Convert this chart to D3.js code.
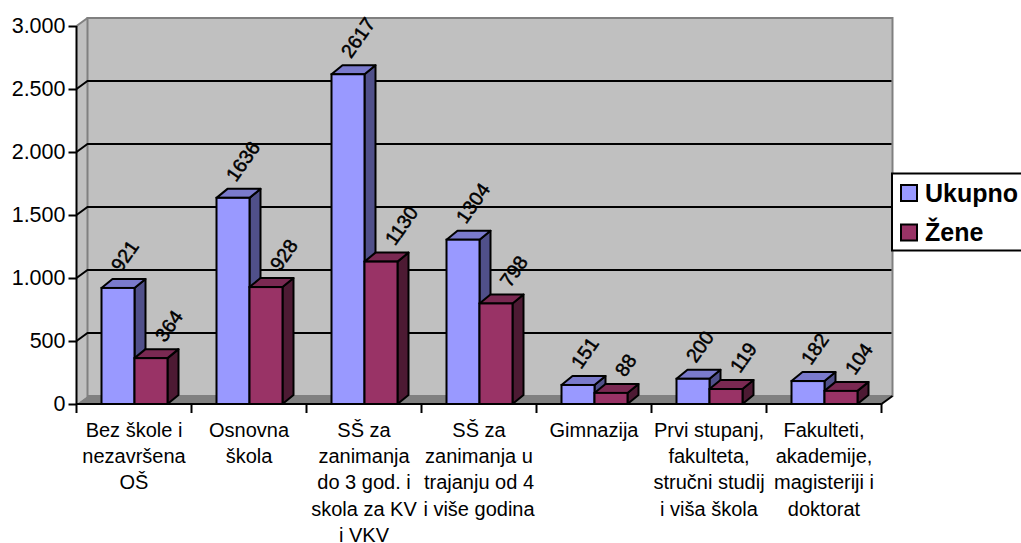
<!DOCTYPE html>
<html>
<head>
<meta charset="utf-8">
<script src="https://cdn.jsdelivr.net/npm/d3@7/dist/d3.min.js"></script>
<style>
html, body { margin: 0; padding: 0; background: #fff; overflow: hidden; }
svg { display: block; }
text { font-family: "Liberation Sans", Arial, sans-serif; fill: #000; }
</style>
</head>
<body>
<div id="chart"></div>
<script>
var categories = [
    ["Bez škole i", "nezavršena", "OŠ"],
    ["Osnovna", "škola"],
    ["SŠ za", "zanimanja", "do 3 god. i", "skola za KV", "i VKV"],
    ["SŠ za", "zanimanja u", "trajanju od 4", "i više godina"],
    ["Gimnazija"],
    ["Prvi stupanj,", "fakulteta,", "stručni studij", "i viša škola"],
    ["Fakulteti,", "akademije,", "magisteriji i", "doktorat"]
];
var ukupno = [921, 1636, 2617, 1304, 151, 200, 182];
var zene = [364, 928, 1130, 798, 88, 119, 104];
var seriesNames = ["Ukupno", "Žene"];
var yTicks = [0, 500, 1000, 1500, 2000, 2500, 3000];
var yTickLabels = ["0", "500", "1.000", "1.500", "2.000", "2.500", "3.000"];

var w = 1021, h = 543;
var depthX = 11, depthY = -8;
var barDepthX = 11, barDepthY = -9;

var svg = d3.select("#chart").append("svg")
    .attr("width", w)
    .attr("height", h);

var x = d3.scaleBand()
    .domain(d3.range(categories.length))
    .range([76.5, 881.5]);

var y = d3.scaleLinear()
    .domain([0, 3000])
    .range([404, 26]);

var inner = d3.scaleBand()
    .domain([0, 1])
    .range([25, 91]);

// walls
var wall = svg.append("g");
wall.append("polygon")
    .attr("points", [[x.range()[0], y(0)], [x.range()[0] + depthX, y(0) + depthY], [x.range()[0] + depthX, y(3000) + depthY], [x.range()[0], y(3000)]].join(" "))
    .attr("fill", "#c0c0c0");
wall.append("rect")
    .attr("x", x.range()[0] + depthX)
    .attr("y", y(3000) + depthY)
    .attr("width", x.range()[1] - x.range()[0])
    .attr("height", y(0) - y(3000))
    .attr("fill", "#c0c0c0")
    .attr("stroke", "#808080")
    .attr("stroke-width", 2);
wall.append("polygon")
    .attr("points", [[x.range()[0], y(0)], [x.range()[1], y(0)], [x.range()[1] + depthX, y(0) + depthY], [x.range()[0] + depthX, y(0) + depthY]].join(" "))
    .attr("fill", "#808080");

// grid lines on the back wall and the side wall
yTicks.slice(1).forEach(function(t) {
    wall.append("polyline")
        .attr("points", [[x.range()[0], y(t)], [x.range()[0] + depthX, y(t) + depthY], [x.range()[1] + depthX - 1, y(t) + depthY]].join(" "))
        .attr("fill", "none")
        .attr("stroke", t == 3000 ? "none" : "#000")
        .attr("stroke-width", 2);
});
wall.append("line")
    .attr("x1", x.range()[0]).attr("y1", y(3000))
    .attr("x2", x.range()[0] + depthX).attr("y2", y(3000) + depthY)
    .attr("stroke", "#808080").attr("stroke-width", 2);

// bars
function drawBar(g, x0, bw, value, front, top, side) {
    var yt = y(value), yb = y(0);
    g.append("polygon")
        .attr("points", [[x0 + bw, yb], [x0 + bw + barDepthX, yb + barDepthY], [x0 + bw + barDepthX, yt + barDepthY], [x0 + bw, yt]].join(" "))
        .attr("fill", side).attr("stroke", "#000").attr("stroke-width", 2).attr("stroke-linejoin", "round");
    g.append("polygon")
        .attr("points", [[x0, yt], [x0 + bw, yt], [x0 + bw + barDepthX, yt + barDepthY], [x0 + barDepthX, yt + barDepthY]].join(" "))
        .attr("fill", top).attr("stroke", "#000").attr("stroke-width", 2).attr("stroke-linejoin", "round");
    g.append("rect")
        .attr("x", x0).attr("y", yt)
        .attr("width", bw).attr("height", yb - yt)
        .attr("fill", front).attr("stroke", "#000").attr("stroke-width", 2);
}

var bars = svg.append("g");
categories.forEach(function(c, i) {
    drawBar(bars, x(i) + inner(0), inner.bandwidth(), ukupno[i], "#9999ff", "#7a7acc", "#50508a");
    drawBar(bars, x(i) + inner(1), inner.bandwidth(), zene[i], "#993366", "#7a2952", "#4d1a33");
});

// value labels
function valueLabel(i, s, v) {
    var lx = x(i) + inner(s) + inner.bandwidth() / 2 + (s == 0 ? 3 : 14);
    var ly = y(v) - 15;
    svg.append("text")
        .attr("transform", "translate(" + lx + "," + ly + ") rotate(-55)")
        .attr("text-anchor", "start")
        .attr("font-size", 19.5)
        .style("stroke", "#000")
        .style("stroke-width", 0.5)
        .text(v);
}
categories.forEach(function(c, i) {
    valueLabel(i, 0, ukupno[i]);
    valueLabel(i, 1, zene[i]);
});

// y axis
var yAxis = d3.axisLeft(y)
    .tickValues(yTicks)
    .tickSize(8)
    .tickPadding(3)
    .tickFormat(function(d, i) { return yTickLabels[i]; });
var gy = svg.append("g")
    .attr("transform", "translate(" + x.range()[0] + ",0)")
    .call(yAxis);
gy.selectAll("text").attr("font-size", 21.5).style("font-family", '"Liberation Sans", Arial, sans-serif');
gy.selectAll("line").attr("stroke", "#000").attr("stroke-width", 2);
gy.select(".domain").attr("stroke", "#000").attr("stroke-width", 2).attr("d", "M0," + y(3000) + "V" + y(0));

// x axis
svg.append("line")
    .attr("x1", x.range()[0]).attr("x2", x.range()[1])
    .attr("y1", y(0)).attr("y2", y(0))
    .attr("stroke", "#000").attr("stroke-width", 2);
d3.range(categories.length + 1).forEach(function(i) {
    var tx = i == categories.length ? x.range()[1] : x(i);
    svg.append("line")
        .attr("x1", tx).attr("x2", tx)
        .attr("y1", y(0)).attr("y2", y(0) + 9)
        .attr("stroke", "#000").attr("stroke-width", 2);
});
svg.append("line")
    .attr("x1", x.range()[1]).attr("y1", y(0))
    .attr("x2", x.range()[1] + depthX).attr("y2", y(0) + depthY)
    .attr("stroke", "#000").attr("stroke-width", 2);

// category labels
categories.forEach(function(c, i) {
    var t = svg.append("text")
        .attr("text-anchor", "middle")
        .attr("font-size", 20);
    c.forEach(function(line, k) {
        t.append("tspan")
            .attr("x", x(i) + x.bandwidth() / 2)
            .attr("y", 437 + k * 26.2)
            .text(line);
    });
});

// legend
var legend = svg.append("g");
legend.append("rect")
    .attr("x", 892).attr("y", 173.5)
    .attr("width", 140).attr("height", 77)
    .attr("fill", "#fff").attr("stroke", "#000").attr("stroke-width", 2);
seriesNames.forEach(function(name, i) {
    legend.append("rect")
        .attr("x", 901).attr("y", 185 + i * 39.5)
        .attr("width", 16).attr("height", 16)
        .attr("fill", i == 0 ? "#9999ff" : "#993366")
        .attr("stroke", "#000").attr("stroke-width", 2);
    legend.append("text")
        .attr("x", 925).attr("y", 202 + i * 39)
        .attr("font-size", 25)
        .attr("font-weight", "bold")
        .text(name);
});
</script>
</body>
</html>
